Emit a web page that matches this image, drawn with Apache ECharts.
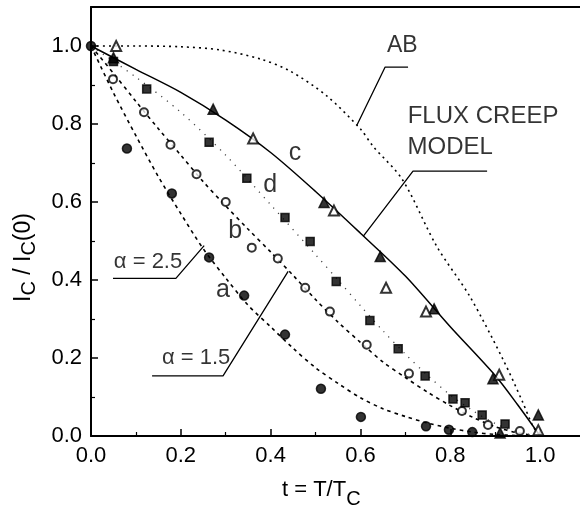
<!DOCTYPE html>
<html>
<head>
<meta charset="utf-8">
<script src="https://cdn.jsdelivr.net/npm/echarts@6/dist/echarts.min.js"></script>
<style>
html,body{margin:0;padding:0;background:#fff;overflow:hidden;}
#chart{width:580px;height:508px;}
</style>
</head>
<body>
<div id="chart"></div>
<script>
// ---- Data (t = T/Tc, Ic/Ic(0)) ----
var xTicks = [0.0, 0.2, 0.4, 0.6, 0.8, 1.0];
var yTicks = [0.0, 0.2, 0.4, 0.6, 0.8, 1.0];

// measured points
var filledCircles = [[0,1.0],[0.08,0.737],[0.18,0.622],[0.263,0.458],[0.341,0.36],[0.432,0.26],[0.512,0.121],[0.601,0.049],[0.746,0.025],[0.797,0.016],[0.849,0.01]];
var openCircles = [[0.049,0.915],[0.118,0.83],[0.177,0.747],[0.235,0.671],[0.30,0.60],[0.358,0.483],[0.416,0.455],[0.477,0.38],[0.532,0.319],[0.614,0.234],[0.708,0.16],[0.826,0.064],[0.884,0.028],[0.955,0.013]];
var filledSquares = [[0.05,0.96],[0.124,0.89],[0.263,0.753],[0.347,0.661],[0.432,0.56],[0.488,0.499],[0.546,0.396],[0.621,0.296],[0.684,0.224],[0.744,0.154],[0.806,0.095],[0.833,0.085],[0.871,0.054],[0.922,0.031]];
var filledTriangles = [[0.05,0.97],[0.272,0.838],[0.519,0.599],[0.644,0.46],[0.764,0.326],[0.895,0.147],[0.911,0.008],[0.996,0.054]];
var openTriangles = [[0.056,1.0],[0.361,0.763],[0.541,0.578],[0.657,0.38],[0.746,0.319],[0.909,0.157],[0.996,0.015]];

// model curves
var curveAB = [[0,1.0],[0.1,1.0],[0.2,0.998],[0.287,0.99],[0.376,0.967],[0.443,0.936],[0.525,0.872],[0.6,0.787],[0.628,0.743],[0.693,0.658],[0.77,0.486],[0.844,0.357],[0.918,0.195],[0.96,0.09],[0.985,0.023],[1.0,0]];
var curveA = [[0,1.0],[0.05,0.88],[0.1,0.77],[0.15,0.665],[0.2,0.57],[0.25,0.48],[0.3,0.405],[0.35,0.335],[0.4,0.28],[0.45,0.225],[0.5,0.175],[0.55,0.135],[0.6,0.098],[0.65,0.07],[0.7,0.05],[0.75,0.033],[0.8,0.02],[0.85,0.01],[0.9,0.004],[0.95,0.001],[1.0,0]];
var curveB = [[0,1.0],[0.05,0.93],[0.1,0.858],[0.15,0.788],[0.2,0.72],[0.25,0.652],[0.3,0.59],[0.35,0.53],[0.4,0.472],[0.45,0.412],[0.5,0.35],[0.55,0.292],[0.6,0.24],[0.65,0.19],[0.7,0.15],[0.75,0.112],[0.8,0.078],[0.85,0.048],[0.9,0.024],[0.95,0.008],[1.0,0]];
var curveC = [[0,1.0],[0.1,0.94],[0.2,0.881],[0.3,0.81],[0.4,0.727],[0.5,0.627],[0.6,0.52],[0.7,0.41],[0.8,0.28],[0.9,0.155],[0.95,0.08],[1.0,0]];
var curveD = [[0,1.0],[0.1,0.92],[0.2,0.83],[0.3,0.72],[0.4,0.593],[0.5,0.465],[0.55,0.4],[0.6,0.334],[0.65,0.27],[0.7,0.21],[0.75,0.155],[0.8,0.105],[0.85,0.065],[0.9,0.032],[0.95,0.01],[1.0,0]];

// leader lines for annotations
var leaderAB = [[0.592,0.797],[0.655,0.946],[0.706,0.946]];
var leaderFlux = [[0.606,0.512],[0.717,0.679],[0.882,0.679]];
var leaderA25 = [[0.049,0.404],[0.189,0.404],[0.252,0.488]];
var leaderA15 = [[0.136,0.154],[0.294,0.154],[0.439,0.422]];

// annotation texts
var notes = [
  {name:'AB', value:[0.693,1.0], size:23},
  {name:'FLUX CREEP', value:[0.873,0.82], size:24},
  {name:'MODEL', value:[0.8,0.74], size:24},
  {name:'\u03b1 = 2.5', value:[0.127,0.447], size:22},
  {name:'\u03b1 = 1.5', value:[0.234,0.2], size:22},
  {name:'a', value:[0.294,0.375], size:25},
  {name:'b', value:[0.321,0.525], size:25},
  {name:'c', value:[0.454,0.725], size:25},
  {name:'d', value:[0.399,0.643], size:25}
];

var FONT = '"Liberation Sans", Arial, Helvetica, sans-serif';
var chart = echarts.init(document.getElementById('chart'));

function curve(data, dash, width, color) {
  return {type:'line', data:data, smooth:0.3, showSymbol:false, symbol:'none', silent:true,
    lineStyle:{color:color||'#000', width:width, type:dash}, z:2};
}
function leader(data) {
  return {type:'line', data:data, showSymbol:false, symbol:'none', silent:true,
    lineStyle:{color:'#000', width:1.3, type:'solid'}, z:2};
}
function pts(data, symbol, size) {
  return {type:'scatter', data:data, symbol:symbol, symbolSize:size, silent:true,
    itemStyle:{color:'#000', borderColor:'#000', borderWidth:1.5}, z:5};
}
function tickFmt(list) {
  return function(v){ return list.indexOf(Math.round(v*10)/10) >= 0 ? v.toFixed(1) : ''; };
}

var option = {
  animation:false,
  backgroundColor:'#fff',
  grid:{left:91, top:7, width:494, height:429, show:false, containLabel:false, outerBoundsMode:'none'},
  xAxis:[{type:'value', min:0, max:1.1, interval:0.2, position:'bottom',
    axisLine:{show:true, onZero:false, lineStyle:{color:'#000', width:2}},
    axisTick:{show:true, inside:true, length:7, lineStyle:{color:'#000', width:1.5}},
    minorTick:{show:true, splitNumber:2, length:4, lineStyle:{color:'#000', width:1.2}},
    splitLine:{show:false},
    axisLabel:{show:true, margin:9, color:'#000', fontSize:22, fontFamily:FONT, showMaxLabel:false,
      formatter:tickFmt(xTicks)}
  },{type:'value', min:0, max:1.1, interval:0.2, position:'top',
    axisLine:{show:true, onZero:false, lineStyle:{color:'#000', width:2}},
    axisTick:{show:false}, axisLabel:{show:false}, splitLine:{show:false}
  }],
  yAxis:{type:'value', min:0, max:1.1, interval:0.2,
    axisLine:{show:true, onZero:false, lineStyle:{color:'#000', width:2}},
    axisTick:{show:true, inside:true, length:7, lineStyle:{color:'#000', width:1.5}},
    minorTick:{show:true, splitNumber:2, length:4, lineStyle:{color:'#000', width:1.2}},
    splitLine:{show:false},
    axisLabel:{show:true, margin:9, color:'#000', fontSize:22, fontFamily:FONT, showMaxLabel:false,
      formatter:tickFmt(yTicks)}
  },
  series:[
    curve(curveAB, [2,4], 1.6),
    curve(curveA, [3.5,4], 1.6),
    curve(curveB, [3.5,4], 1.6),
    curve(curveD, [1.2,6], 1.3, '#444'),
    curve(curveC, 'solid', 1.5),
    leader(leaderAB), leader(leaderFlux), leader(leaderA25), leader(leaderA15),
    pts(filledCircles, 'circle', 9),
    pts(openCircles, 'emptyCircle', 8),
    pts(filledSquares, 'rect', 8),
    pts(filledTriangles, 'triangle', 10),
    pts(openTriangles, 'emptyTriangle', 10),
    {type:'scatter', silent:true, symbolSize:1, itemStyle:{color:'rgba(0,0,0,0)'}, z:6,
      data:notes.map(function(n){ return {name:n.name, value:n.value,
        label:{show:true, position:'inside', formatter:'{b}', color:'#000', fontSize:n.size, fontFamily:FONT}}; })
    }
  ],
  graphic:[
    {type:'text', left:282, top:479, silent:true,
      style:{text:'{m|t = T/T}{s|C}', fill:'#000',
        rich:{m:{fontSize:22, fontFamily:FONT, lineHeight:22, verticalAlign:'top'},
              s:{fontSize:20, fontFamily:FONT, lineHeight:20, verticalAlign:'top', padding:[10,0,0,0]}}}},
    {type:'text', x:12, y:302, rotation:Math.PI/2, silent:true,
      style:{text:'{m|I}{s|C}{m| / I}{s|C}{m|(0)}', fill:'#000',
        rich:{m:{fontSize:23, fontFamily:FONT, lineHeight:23, verticalAlign:'top'},
              s:{fontSize:20, fontFamily:FONT, lineHeight:20, verticalAlign:'top', padding:[7,0,0,0]}}}}
  ]
};
chart.setOption(option);
</script>
</body>
</html>
